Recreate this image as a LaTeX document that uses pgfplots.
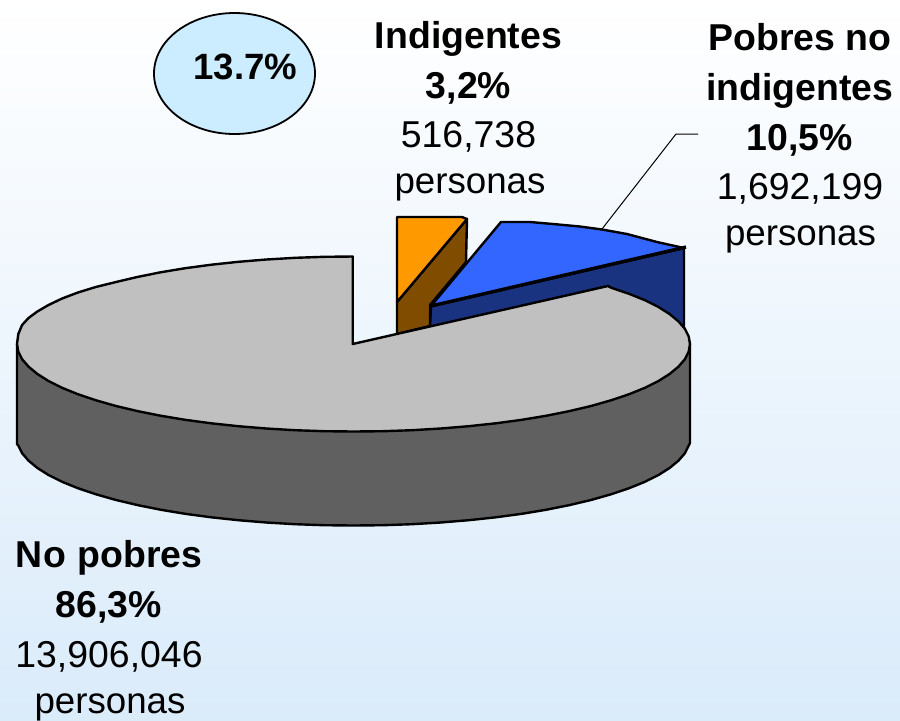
\documentclass[border=0pt]{standalone}
\usepackage{fontspec}
\setmainfont{Liberation Sans}
\usepackage{pgfplots}
\pgfplotsset{compat=1.18}
\definecolor{bgb}{HTML}{DAEBFA}
\definecolor{ctop}{HTML}{C0C0C0}
\definecolor{cside}{HTML}{606060}
\definecolor{cblue}{HTML}{3366FF}
\definecolor{cdblue}{HTML}{1A3380}
\definecolor{corange}{HTML}{FF9900}
\definecolor{cbrown}{HTML}{804D00}
\definecolor{cbub}{HTML}{CCECFF}
\newcommand{\lab}{\fontsize{18.7}{20}\selectfont}
\newcommand{\labp}{\fontsize{18.35}{20}\selectfont}
\begin{document}
\begin{tikzpicture}
\begin{axis}[
  scale only axis, width=450pt, height=360pt,
  xmin=0, xmax=900, ymin=0, ymax=720, y dir=reverse,
  axis line style={draw=none}, ticks=none, clip=false,
  axis background/.style={top color=white, bottom color=bgb},
  every axis plot/.append style={mark=none, line width=1.2pt, draw=black, line join=round},
]
% side wall of the large slice
\addplot[fill=cside] coordinates {
 (17,344) (17,444) (18.3,445.6) (22.1,453.2) (28.5,460.6) (37.3,467.9) (48.5,475) (62.1,481.8) (77.9,488.2) (95.7,494.2)
 (115.6,499.9) (137.2,505) (160.5,509.7) (185.2,513.8) (211.3,517.3) (238.4,520.2) (266.4,522.5) (295.1,524.2) (324.2,525.2)
 (353.5,525.5) (382.8,525.2) (411.9,524.2) (440.6,522.5) (468.6,520.2) (495.8,517.3) (521.8,513.8) (546.5,509.7) (569.8,505)
 (591.4,499.9) (611.3,494.2) (629.1,488.2) (644.9,481.8) (658.5,475) (669.7,467.9) (678.5,460.6) (684.9,453.2) (688.7,445.6)
 (690,443) (690,344)
} -- cycle;
% Indigentes
\addplot[fill=cbrown] coordinates {
 (467,219) (466,262) (430,305) (430,326) (397,334) (397,302)
} -- cycle;
\addplot[fill=corange] coordinates {
 (397,217) (462,217) (467,219) (397,302)
} -- cycle;
% Pobres no indigentes
\addplot[fill=cdblue] coordinates {
 (431,306) (684,248) (684,330) (608,286) (430,328)
} -- cycle;
\addplot[fill=cblue] coordinates {
 (431,306) (501,222) (530,222) (553,224) (580,226.5) (602,229.5) (627,234) (657,242) (684,248)
} -- cycle;
\addplot[line width=1.7pt] coordinates {(431,306) (686,247)};
% top of the large slice
\addplot[fill=ctop] coordinates {
 (352.7,344) (352.7,256.5) (324.2,256.8) (295.1,257.8) (266.4,259.5) (238.4,261.8) (211.3,264.7) (185.2,268.2) (160.5,272.3)
 (137.2,277) (115.6,282.1) (95.7,287) (77.9,292.5) (62.1,298.5) (48.5,305) (37.3,311.5) (28.5,318) (22.1,325) (18.3,334)
 (17,344) (18.3,351.6) (22.1,359.2) (28.5,366.6) (37.3,373.9) (48.5,381) (62.1,387.8) (77.9,394.2) (95.7,400.2) (115.6,405.9)
 (137.2,411) (160.5,415.7) (185.2,419.8) (211.3,423.3) (238.4,426.2) (266.4,428.5) (295.1,430.2) (324.2,431.2) (353.5,431.5)
 (382.8,431.2) (411.9,430.2) (440.6,428.5) (468.6,426.2) (495.8,423.3) (521.8,419.8) (546.5,415.7) (569.8,411) (591.4,405.9)
 (611.3,400.2) (629.1,394.2) (644.9,387.8) (658.5,381) (669.7,373.9) (678.5,366.6) (684.9,359.2) (688.7,351.6) (690,344)
 (688.7,336.4) (684.9,328.8) (678.5,321.4) (669.7,314.1) (658.5,307) (644.9,300.2) (629.1,293.8) (611.3,287.8) (608,286)
} -- cycle;
% leader line
\addplot[line width=0.5pt] coordinates {(602,229) (676,134) (698,134)};
% bubble
\draw[line width=0.9pt, fill=cbub] (axis cs:234.5,73.5) ellipse [x radius=40.25pt, y radius=30.25pt];
\node[anchor=base, inner sep=0pt, overlay] at (axis cs:245.5,79) {\fontsize{18.3}{20}\selectfont\bfseries 13.7\%};
% labels
\node[anchor=base, inner sep=0pt] at (axis cs:468.5,48) {\lab\bfseries Indigentes};
\node[anchor=base, inner sep=0pt] at (axis cs:468.5,98) {\lab\bfseries 3,2\%};
\node[anchor=base, inner sep=0pt] at (axis cs:468.5,147) {\lab 516,738};
\node[anchor=base, inner sep=0pt] at (axis cs:470,193) {\labp personas};
\node[anchor=base, inner sep=0pt] at (axis cs:800,50) {\lab\bfseries Pobres no};
\node[anchor=base, inner sep=0pt] at (axis cs:800,100.5) {\lab\bfseries indigentes};
\node[anchor=base, inner sep=0pt] at (axis cs:800,150) {\lab\bfseries 10,5\%};
\node[anchor=base, inner sep=0pt] at (axis cs:800,199) {\lab 1,692,199};
\node[anchor=base, inner sep=0pt] at (axis cs:800.5,245) {\labp personas};
\node[anchor=base, inner sep=0pt] at (axis cs:109,567.5) {\lab\bfseries N\kern0.6pt o\hspace{0.5pt} pobres};
\node[anchor=base, inner sep=0pt] at (axis cs:109,617.5) {\lab\bfseries 86,3\%};
\node[anchor=base, inner sep=0pt] at (axis cs:109,667) {\lab 13,906,046};
\node[anchor=base, inner sep=0pt, overlay] at (axis cs:110,713) {\labp personas};
\end{axis}
\pgfresetboundingbox
\path (current axis.south west) rectangle (current axis.north east);
\end{tikzpicture}
\end{document}
